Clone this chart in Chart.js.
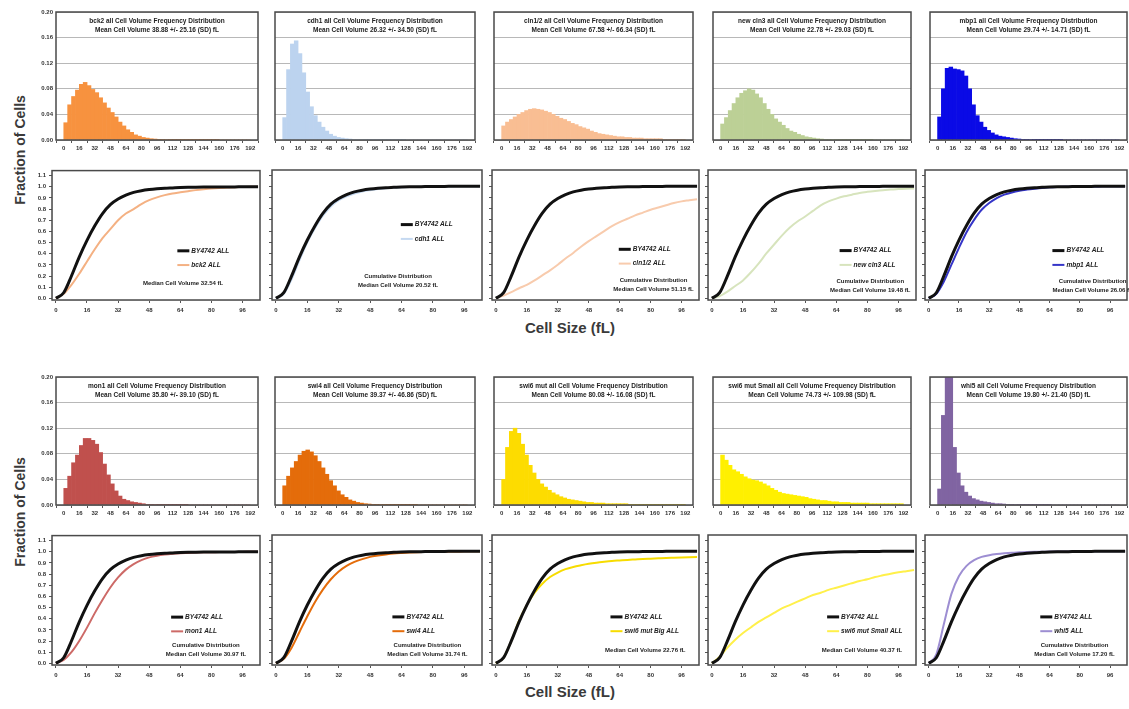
<!DOCTYPE html>
<html>
<head>
<meta charset="utf-8">
<script src="https://cdn.jsdelivr.net/npm/chart.js@4"></script>
<style>
    body { margin: 0; background: #fff; width: 1129px; height: 709px; position: relative; overflow: hidden; font-family: "Liberation Sans", Arial, sans-serif; }
    canvas { position: absolute; }
    .axis-title { position: absolute; font-weight: bold; color: #3a3a3a; white-space: nowrap; transform: translate(-50%, -50%); }
    .x-title { font-size: 15px; }
    .y-title { font-size: 14px; transform: translate(-50%, -50%) rotate(-90deg); }
</style>
</head>
<body>
<div class="axis-title x-title" style="left:570px;top:327px;">Cell Size (fL)</div>
<div class="axis-title x-title" style="left:570px;top:691px;">Cell Size (fL)</div>
<div class="axis-title y-title" style="left:20px;top:150px;">Fraction of Cells</div>
<div class="axis-title y-title" style="left:20px;top:512px;">Fraction of Cells</div>
<script>
// Histogram bins (fL), bin width 4
const binCenters = [2, 6, 10, 14, 18, 22, 26, 30, 34, 38, 42, 46, 50, 54, 58, 62, 66, 70, 74, 78, 82, 86, 90, 94,
    98, 102, 106, 110, 114, 118, 122, 126, 130, 134, 138, 142, 146, 150, 154, 158, 162, 166, 170, 174, 178, 182, 186, 190];
const histTicks = [0, 16, 32, 48, 64, 80, 96, 112, 128, 144, 160, 176, 192];

const bck2Hist = [0.027, 0.055, 0.068, 0.078, 0.087, 0.090, 0.085, 0.079, 0.074, 0.066, 0.058, 0.050, 0.043, 0.036, 0.028, 0.022,
    0.016, 0.012, 0.008, 0.006, 0.004, 0.003, 0.002, 0.0015, 0.001, 0.001, 0.0008, 0.0006, 0.0005, 0.0005, 0.0004, 0.0003,
    0.0003, 0.0002, 0.0002, 0.0002, 0.0001, 0.0001, 0.0001, 0.0001, 0, 0, 0, 0, 0, 0, 0, 0];
const cdh1Hist = [0.035, 0.110, 0.150, 0.155, 0.135, 0.105, 0.075, 0.052, 0.038, 0.028, 0.020, 0.014, 0.009, 0.006, 0.004, 0.003,
    0.002, 0.0015, 0.001, 0.001, 0.0008, 0.0006, 0.0005, 0.0004, 0.0003, 0.0003, 0.0002, 0.0002, 0.0002, 0.0001, 0.0001, 0.0001,
    0, 0, 0, 0, 0, 0, 0, 0, 0, 0, 0, 0, 0, 0, 0, 0];
const cln12Hist = [0.022, 0.028, 0.032, 0.036, 0.040, 0.043, 0.046, 0.048, 0.049, 0.048, 0.047, 0.045, 0.043, 0.040, 0.037, 0.034,
    0.032, 0.029, 0.026, 0.024, 0.021, 0.019, 0.017, 0.014, 0.012, 0.010, 0.009, 0.008, 0.007, 0.006, 0.005, 0.005,
    0.004, 0.004, 0.003, 0.003, 0.003, 0.002, 0.002, 0.002, 0.002, 0.002, 0.001, 0.001, 0.001, 0.001, 0.001, 0.001];
const newCln3Hist = [0.025, 0.035, 0.046, 0.057, 0.066, 0.073, 0.077, 0.080, 0.078, 0.072, 0.066, 0.057, 0.048, 0.040, 0.033, 0.028,
    0.023, 0.018, 0.014, 0.012, 0.009, 0.007, 0.005, 0.004, 0.003, 0.002, 0.0015, 0.001, 0.001, 0.0008, 0.0006, 0.0005,
    0.0004, 0.0003, 0.0003, 0.0002, 0.0002, 0.0001, 0.0001, 0.0001, 0, 0, 0, 0, 0, 0, 0, 0];
const mbp1Hist = [0.036, 0.080, 0.112, 0.114, 0.111, 0.110, 0.108, 0.100, 0.080, 0.055, 0.038, 0.028, 0.020, 0.015, 0.011, 0.008,
    0.006, 0.005, 0.004, 0.003, 0.002, 0.0015, 0.001, 0.001, 0.0008, 0.0006, 0.0005, 0.0004, 0.0003, 0.0002, 0.0002, 0.0001,
    0.0001, 0, 0, 0, 0, 0, 0, 0, 0, 0, 0, 0, 0, 0, 0, 0];
const mon1Hist = [0.026, 0.045, 0.066, 0.078, 0.093, 0.104, 0.104, 0.101, 0.095, 0.082, 0.064, 0.047, 0.033, 0.022, 0.014, 0.009,
    0.007, 0.005, 0.004, 0.003, 0.002, 0.001, 0.001, 0.0008, 0.0006, 0.0005, 0.0004, 0.0003, 0.0002, 0.0002, 0.0001, 0.0001,
    0, 0, 0, 0, 0, 0, 0, 0, 0, 0, 0, 0, 0, 0, 0, 0];
const swi4Hist = [0.030, 0.045, 0.058, 0.068, 0.078, 0.084, 0.086, 0.083, 0.077, 0.068, 0.058, 0.048, 0.038, 0.030, 0.022, 0.016,
    0.012, 0.008, 0.006, 0.004, 0.003, 0.002, 0.0015, 0.001, 0.001, 0.0008, 0.0006, 0.0005, 0.0004, 0.0003, 0.0003, 0.0002,
    0.0002, 0.0001, 0.0001, 0, 0, 0, 0, 0, 0, 0, 0, 0, 0, 0, 0, 0];
const swi6BigHist = [0.040, 0.090, 0.115, 0.120, 0.112, 0.095, 0.078, 0.062, 0.050, 0.040, 0.033, 0.028, 0.023, 0.019, 0.016, 0.013,
    0.011, 0.009, 0.008, 0.007, 0.006, 0.005, 0.004, 0.004, 0.003, 0.003, 0.003, 0.002, 0.002, 0.002, 0.002, 0.002,
    0.002, 0.001, 0.001, 0.001, 0.001, 0.001, 0.001, 0.001, 0.001, 0.001, 0.001, 0.001, 0.001, 0.001, 0.001, 0.001];
const swi6SmallHist = [0.078, 0.070, 0.062, 0.055, 0.052, 0.048, 0.044, 0.041, 0.039, 0.038, 0.036, 0.033, 0.030, 0.026, 0.023, 0.020,
    0.018, 0.017, 0.016, 0.015, 0.014, 0.013, 0.012, 0.010, 0.009, 0.008, 0.007, 0.007, 0.006, 0.005, 0.005, 0.004,
    0.004, 0.004, 0.003, 0.003, 0.003, 0.003, 0.003, 0.002, 0.002, 0.002, 0.002, 0.002, 0.002, 0.002, 0.002, 0.002];
const whi5Hist = [0.025, 0.140, 0.260, 0.200, 0.090, 0.050, 0.030, 0.020, 0.014, 0.010, 0.008, 0.006, 0.005, 0.004, 0.003, 0.002,
    0.002, 0.0015, 0.001, 0.001, 0.0008, 0.0006, 0.0005, 0.0004, 0.0003, 0.0003, 0.0002, 0.0002, 0.0001, 0.0001, 0, 0,
    0, 0, 0, 0, 0, 0, 0, 0, 0, 0, 0, 0, 0, 0, 0, 0];

// Cumulative distributions (fL), sampled every 4 fL
const cumX = [0, 4, 8, 12, 16, 20, 24, 28, 32, 36, 40, 44, 48, 52, 56, 60, 64, 68, 72, 76, 80, 84, 88, 92, 96, 100, 104];
const cumTicksX = [0, 16, 32, 48, 64, 80, 96];
const cumTicksY = [0, 0.1, 0.2, 0.3, 0.4, 0.5, 0.6, 0.7, 0.8, 0.9, 1.0, 1.1];

const by4742Cum = [0, 0.05, 0.20, 0.37, 0.52, 0.65, 0.76, 0.84, 0.89, 0.925, 0.95, 0.965, 0.975, 0.982, 0.987, 0.99,
    0.993, 0.995, 0.996, 0.997, 0.998, 0.998, 0.999, 0.999, 1.0, 1.0, 1.0];
const bck2Cum = [0, 0.04, 0.12, 0.22, 0.33, 0.44, 0.54, 0.62, 0.70, 0.76, 0.80, 0.845, 0.88, 0.905, 0.925, 0.94,
    0.95, 0.96, 0.97, 0.978, 0.985, 0.99, 0.993, 0.996, 0.998, 1.0, 1.0];
const cdh1Cum = [0, 0.04, 0.17, 0.34, 0.50, 0.63, 0.74, 0.82, 0.875, 0.91, 0.935, 0.953, 0.965, 0.975, 0.982, 0.987,
    0.99, 0.993, 0.995, 0.996, 0.997, 0.998, 0.998, 0.999, 0.999, 1.0, 1.0];
const cln12Cum = [0, 0.025, 0.055, 0.09, 0.12, 0.16, 0.205, 0.25, 0.30, 0.355, 0.405, 0.46, 0.51, 0.555, 0.60, 0.645,
    0.68, 0.71, 0.74, 0.765, 0.79, 0.81, 0.83, 0.85, 0.865, 0.875, 0.885];
const newCln3Cum = [0, 0.02, 0.06, 0.11, 0.16, 0.23, 0.31, 0.40, 0.48, 0.56, 0.63, 0.685, 0.73, 0.78, 0.83, 0.865,
    0.89, 0.91, 0.925, 0.94, 0.95, 0.958, 0.965, 0.97, 0.975, 0.978, 0.98];
const mbp1Cum = [0, 0.04, 0.15, 0.30, 0.45, 0.59, 0.70, 0.79, 0.85, 0.895, 0.925, 0.945, 0.96, 0.97, 0.978, 0.985,
    0.99, 0.993, 0.995, 0.996, 0.997, 0.998, 0.998, 0.999, 0.999, 1.0, 1.0];
const mon1Cum = [0, 0.03, 0.10, 0.20, 0.32, 0.45, 0.57, 0.68, 0.77, 0.84, 0.89, 0.925, 0.95, 0.965, 0.975, 0.982,
    0.987, 0.99, 0.993, 0.995, 0.996, 0.997, 0.998, 0.999, 0.999, 1.0, 1.0];
const swi4Cum = [0, 0.04, 0.14, 0.28, 0.42, 0.55, 0.66, 0.75, 0.82, 0.87, 0.905, 0.93, 0.95, 0.962, 0.972, 0.98,
    0.985, 0.989, 0.992, 0.994, 0.996, 0.997, 0.998, 0.998, 0.999, 0.999, 1.0];
const swi6BigCum = [0, 0.05, 0.20, 0.38, 0.52, 0.63, 0.71, 0.77, 0.81, 0.84, 0.86, 0.875, 0.888, 0.898, 0.906, 0.913,
    0.918, 0.923, 0.927, 0.931, 0.934, 0.937, 0.94, 0.942, 0.944, 0.946, 0.948];
const swi6SmallCum = [0, 0.06, 0.14, 0.21, 0.27, 0.32, 0.37, 0.41, 0.45, 0.49, 0.52, 0.55, 0.58, 0.61, 0.63, 0.655,
    0.675, 0.695, 0.715, 0.735, 0.75, 0.77, 0.785, 0.80, 0.812, 0.822, 0.832];
const whi5Cum = [0, 0.08, 0.35, 0.62, 0.78, 0.87, 0.92, 0.95, 0.965, 0.975, 0.982, 0.987, 0.99, 0.993, 0.995, 0.996,
    0.997, 0.998, 0.998, 0.999, 0.999, 1.0, 1.0, 1.0, 1.0, 1.0, 1.0];

const FONT = '"Liberation Sans", Arial, sans-serif';
const TICK_FONT = { family: FONT, size: 6, weight: "bold" };

// Panels: plot box edges in page pixels
const histCols = [[56, 258], [275, 475], [494, 693], [713, 911], [930, 1127]];
const cumCols = [[52, 260], [272, 482], [492, 699], [708, 916], [925, 1127]];
const histRows = [[12, 140], [377, 505]];
const cumRows = [[170, 300], [535, 665]];

const histPanels = [
    { name: "bck2", data: bck2Hist, color: "#f7923f", mean: "38.88 +/- 25.16" },
    { name: "cdh1", data: cdh1Hist, color: "#bcd3ef", mean: "26.32 +/- 34.50" },
    { name: "cln1/2", data: cln12Hist, color: "#f9be93", mean: "67.58 +/- 66.34" },
    { name: "new cln3", data: newCln3Hist, color: "#bcd096", mean: "22.78 +/- 29.03" },
    { name: "mbp1", data: mbp1Hist, color: "#0a0ae6", mean: "29.74 +/- 14.71" },
    { name: "mon1", data: mon1Hist, color: "#c0504d", mean: "35.80 +/- 39.10" },
    { name: "swi4", data: swi4Hist, color: "#e46c0a", mean: "39.37 +/- 46.86" },
    { name: "swi6 mut", data: swi6BigHist, color: "#fddc00", mean: "80.08 +/- 16.08" },
    { name: "swi6 mut Small", data: swi6SmallHist, color: "#fff000", mean: "74.73 +/- 109.98" },
    { name: "whi5", data: whi5Hist, color: "#8064a2", mean: "19.80 +/- 21.40" },
];

const cumPanels = [
    { name: "bck2", data: bck2Cum, color: "#f4b183", median: "32.54", twoLine: false, lx: 0.67, ly: 0.62, tx: 0.63, ty: 0.87 },
    { name: "cdh1", data: cdh1Cum, color: "#c5d9f1", median: "20.52", twoLine: true, lx: 0.68, ly: 0.42, tx: 0.60, ty: 0.82 },
    { name: "cln1/2", data: cln12Cum, color: "#f8cbad", median: "51.15", twoLine: true, lx: 0.68, ly: 0.61, tx: 0.78, ty: 0.85 },
    { name: "new cln3", data: newCln3Cum, color: "#d7e4bd", median: "19.48", twoLine: true, lx: 0.70, ly: 0.62, tx: 0.78, ty: 0.86 },
    { name: "mbp1", data: mbp1Cum, color: "#3535c8", median: "26.06", twoLine: true, lx: 0.70, ly: 0.62, tx: 0.83, ty: 0.86 },
    { name: "mon1", data: mon1Cum, color: "#cd6a67", median: "30.97", twoLine: true, lx: 0.64, ly: 0.63, tx: 0.74, ty: 0.85 },
    { name: "swi4", data: swi4Cum, color: "#e46c0a", median: "31.74", twoLine: true, lx: 0.64, ly: 0.63, tx: 0.74, ty: 0.85 },
    { name: "swi6 mut Big", data: swi6BigCum, color: "#f7dc00", median: "22.76", twoLine: false, lx: 0.64, ly: 0.63, tx: 0.74, ty: 0.89 },
    { name: "swi6 mut Small", data: swi6SmallCum, color: "#fff04a", median: "40.37", twoLine: false, lx: 0.64, ly: 0.63, tx: 0.74, ty: 0.89 },
    { name: "whi5", data: whi5Cum, color: "#9d8ed2", median: "17.20", twoLine: true, lx: 0.64, ly: 0.63, tx: 0.74, ty: 0.85 },
];

// Border round each plot area
const boxPlugin = {
    id: "box",
    afterDraw(chart) {
        const { ctx, chartArea: a } = chart;
        ctx.save();
        ctx.strokeStyle = "#4a4a4a";
        ctx.lineWidth = 1.5;
        ctx.strokeRect(a.left, a.top, a.width, a.height);
        ctx.restore();
    },
};

// Text and legend entries placed inside the plot area (fractions of it)
const notesPlugin = {
    id: "notes",
    afterDraw(chart, args, opts) {
        const { ctx, chartArea: a } = chart;
        (opts.items || []).forEach(function (it) {
            const x = a.left + it.x * a.width;
            const y = a.top + it.y * a.height;
            ctx.save();
            ctx.font = (it.italic ? "italic " : "") + "bold " + (it.size || 6) + "px " + FONT;
            ctx.fillStyle = "#222";
            ctx.textBaseline = "middle";
            if (it.swatch) {
                ctx.strokeStyle = it.swatch;
                ctx.lineWidth = it.lw || 2;
                ctx.beginPath();
                ctx.moveTo(x - 14, y);
                ctx.lineTo(x - 2, y);
                ctx.stroke();
                ctx.textAlign = "left";
            } else {
                ctx.textAlign = "center";
            }
            ctx.fillText(it.text, x, y);
            ctx.restore();
        });
    },
};
Chart.register(boxPlugin, notesPlugin);

const makeCanvas = function (left, top, w, h) {
    const c = document.createElement("canvas");
    c.width = w;
    c.height = h;
    c.style.left = left + "px";
    c.style.top = top + "px";
    document.body.appendChild(c);
    return c;
};

const drawHist = function (p, col, row) {
    const [l, r] = histCols[col];
    const [t, b] = histRows[row];
    const yW = col === 0 ? 34 : 3, padTop = 8, padR = 10, xH = 14;
    const canvas = makeCanvas(l - yW, t - padTop, yW + (r - l) + padR, padTop + (b - t) + xH);
    new Chart(canvas, {
        type: "bar",
        data: {
            datasets: [{
                data: binCenters.map((x, i) => ({ x: x, y: p.data[i] })),
                backgroundColor: p.color,
                borderWidth: 0,
                barPercentage: 1,
                categoryPercentage: 1,
            }],
        },
        options: {
            responsive: false,
            animation: false,
            layout: { padding: { top: padTop, right: padR, left: 0, bottom: 0 } },
            plugins: {
                legend: { display: false },
                tooltip: { enabled: false },
                notes: {
                    items: [
                        { text: p.name + " all Cell Volume Frequency Distribution", x: 0.5, y: 0.075, size: 6.5 },
                        { text: "Mean Cell Volume " + p.mean + " (SD) fL", x: 0.5, y: 0.14, size: 6.5 },
                    ],
                },
            },
            scales: {
                x: {
                    type: "linear",
                    min: 0,
                    max: 192,
                    afterBuildTicks: (axis) => { axis.ticks = histTicks.map((v) => ({ value: v })); },
                    ticks: { font: TICK_FONT, color: "#333", padding: 2, maxRotation: 0, autoSkip: false },
                    grid: { display: true, drawOnChartArea: false, tickLength: 3, color: "#555" },
                    afterFit: (s) => { s.height = xH; },
                },
                y: {
                    min: 0,
                    max: 0.2,
                    ticks: { stepSize: 0.04, display: col === 0, font: TICK_FONT, color: "#333", callback: (v) => v.toFixed(2) },
                    grid: { color: "#b8b8b8", drawTicks: false, lineWidth: 1 },
                    border: { display: false },
                    afterFit: (s) => { s.width = yW; },
                },
            },
        },
    });
};

const drawCum = function (p, col, row) {
    const [l, r] = cumCols[col];
    const [t, b] = cumRows[row];
    const yW = col === 0 ? 30 : 3, padTop = 6, padR = 8, xH = 16;
    const canvas = makeCanvas(l - yW, t - padTop, yW + (r - l) + padR, padTop + (b - t) + xH);
    const items = [
        { text: "BY4742 ALL", x: p.lx, y: p.ly, italic: true, size: 6.5, swatch: "#111", lw: 3 },
        { text: p.name + " ALL", x: p.lx, y: p.ly + 0.11, italic: true, size: 6.5, swatch: p.color, lw: 2 },
    ];
    if (p.twoLine) {
        items.push({ text: "Cumulative Distribution", x: p.tx, y: p.ty, size: 6 });
        items.push({ text: "Median Cell Volume " + p.median + " fL", x: p.tx, y: p.ty + 0.065, size: 6 });
    } else {
        items.push({ text: "Median Cell Volume " + p.median + " fL", x: p.tx, y: p.ty, size: 6 });
    }
    new Chart(canvas, {
        type: "line",
        data: {
            datasets: [
                {
                    data: cumX.map((x, i) => ({ x: x, y: by4742Cum[i] })),
                    borderColor: "#111",
                    borderWidth: 3,
                    pointRadius: 0,
                    cubicInterpolationMode: "monotone",
                },
                {
                    data: cumX.map((x, i) => ({ x: x, y: p.data[i] })),
                    borderColor: p.color,
                    borderWidth: 2,
                    pointRadius: 0,
                    cubicInterpolationMode: "monotone",
                },
            ],
        },
        options: {
            responsive: false,
            animation: false,
            layout: { padding: { top: padTop, right: padR, left: 0, bottom: 0 } },
            plugins: { legend: { display: false }, tooltip: { enabled: false }, notes: { items: items } },
            scales: {
                x: {
                    type: "linear",
                    min: -2,
                    max: 105,
                    afterBuildTicks: (axis) => { axis.ticks = cumTicksX.map((v) => ({ value: v })); },
                    ticks: { font: TICK_FONT, color: "#333", padding: 4, maxRotation: 0, autoSkip: false },
                    grid: { display: true, drawOnChartArea: false, tickLength: 3, color: "#555" },
                    afterFit: (s) => { s.height = xH; },
                },
                y: {
                    min: -0.015,
                    max: 1.145,
                    afterBuildTicks: (axis) => { axis.ticks = cumTicksY.map((v) => ({ value: v })); },
                    ticks: { display: col === 0, font: TICK_FONT, color: "#333", padding: 3, autoSkip: false, callback: (v) => v.toFixed(1) },
                    grid: { display: true, drawOnChartArea: false, tickLength: 3, color: "#555" },
                    afterFit: (s) => { s.width = yW; },
                },
            },
        },
    });
};

histPanels.forEach((p, i) => drawHist(p, i % 5, Math.floor(i / 5)));
cumPanels.forEach((p, i) => drawCum(p, i % 5, Math.floor(i / 5)));
</script>
</body>
</html>
